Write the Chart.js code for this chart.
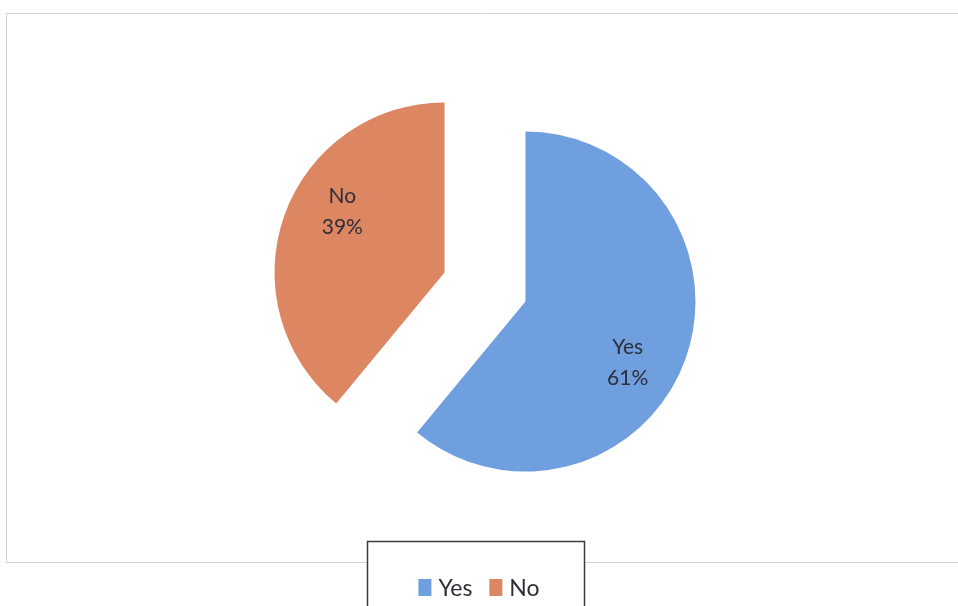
<!DOCTYPE html>
<html>
<head>
<meta charset="utf-8">
<script src="https://cdn.jsdelivr.net/npm/chart.js@4/dist/chart.umd.min.js"></script>
<style>
  html, body { margin: 0; padding: 0; background: #ffffff; }
  #wrap { width: 958px; height: 606px; position: relative; }
</style>
</head>
<body>
<div id="wrap"><canvas id="c" width="958" height="606"></canvas></div>
<script>
// ---- data ----
const categories = ['Yes', 'No'];
const percentValues = [61, 39];
const sliceColors = ['#6f9fdf', '#dc8662'];

// styling: how far each slice is pulled out of the pie (px)
const explodeDistance = 43;

const labelFont = '21px Lato, "Open Sans", sans-serif';
const legendFont = '23px Lato, "Open Sans", sans-serif';

function sliceShift(arc) {
  const p = arc.getProps(['startAngle', 'endAngle'], true);
  const mid = (p.startAngle + p.endAngle) / 2;
  return { dx: Math.cos(mid) * explodeDistance, dy: Math.sin(mid) * explodeDistance, mid };
}

const explodePlugin = {
  id: 'explode',
  beforeDatasetDraw(chart, args) {
    const ctx = chart.ctx;
    args.meta.data.forEach(arc => {
      const s = sliceShift(arc);
      ctx.save();
      ctx.translate(s.dx, s.dy);
      arc.draw(ctx, chart.chartArea);
      ctx.restore();
    });
    return false;
  }
};

const decorPlugin = {
  id: 'decor',
  beforeDraw(chart) {
    const ctx = chart.ctx;
    ctx.save();
    ctx.strokeStyle = '#d2d2d2';
    ctx.lineWidth = 1;
    ctx.beginPath();
    ctx.moveTo(970, 13.5);
    ctx.lineTo(6.5, 13.5);
    ctx.lineTo(6.5, 562.5);
    ctx.lineTo(970, 562.5);
    ctx.stroke();
    ctx.restore();
  },
  afterDraw(chart) {
    const ctx = chart.ctx;
    const meta = chart.getDatasetMeta(0);
    const ds = chart.data.datasets[0];
    const total = ds.data.reduce((a, b) => a + b, 0);
    // data labels
    ctx.save();
    ctx.fillStyle = '#2e2e36';
    ctx.font = labelFont;
    ctx.textAlign = 'center';
    ctx.textBaseline = 'middle';
    meta.data.forEach((arc, i) => {
      const p = arc.getProps(['x', 'y', 'outerRadius'], true);
      const s = sliceShift(arc);
      const cx = p.x + s.dx;
      const cy = p.y + s.dy;
      const ang = s.mid + 11 * Math.PI / 180;
      const r = p.outerRadius * 0.70;
      const lx = cx + Math.cos(ang) * r;
      const ly = cy + Math.sin(ang) * r;
      const pct = Math.round(ds.data[i] / total * 100) + '%';
      ctx.fillText(chart.data.labels[i], lx, ly - 15.5);
      ctx.fillText(pct, lx, ly + 15.5);
    });
    ctx.restore();

    // legend box
    ctx.save();
    ctx.fillStyle = '#ffffff';
    ctx.strokeStyle = '#3c3c3c';
    ctx.lineWidth = 1.5;
    ctx.fillRect(367, 541, 217, 80);
    ctx.strokeRect(367.5, 541.5, 217, 80);
    ctx.font = legendFont;
    ctx.textBaseline = 'alphabetic';
    ctx.textAlign = 'left';
    const boxW = 13, boxH = 17, gapBox = 7, gapItem = 17;
    const widths = chart.data.labels.map(l => ctx.measureText(l).width);
    let totalW = 0;
    widths.forEach((w, i) => { totalW += boxW + gapBox + w + (i < widths.length - 1 ? gapItem : 0); });
    let x = 479 - totalW / 2;
    chart.data.labels.forEach((l, i) => {
      ctx.fillStyle = sliceColors[i];
      ctx.fillRect(x, 579, boxW, boxH);
      x += boxW + gapBox;
      ctx.fillStyle = '#2e2e36';
      ctx.fillText(l, x, 596);
      x += widths[i] + gapItem;
    });
    ctx.restore();
  }
};

new Chart(document.getElementById('c'), {
  type: 'pie',
  data: {
    labels: categories,
    datasets: [{
      data: percentValues,
      backgroundColor: sliceColors,
      borderWidth: 0,
      offset: 0,
      radius: 170
    }]
  },
  options: {
    responsive: false,
    animation: false,
    rotation: 0,
    layout: { padding: { left: 12, right: 0, top: 0, bottom: 32 } },
    plugins: {
      legend: { display: false },
      tooltip: { enabled: false }
    }
  },
  plugins: [explodePlugin, decorPlugin]
});
</script>
</body>
</html>
